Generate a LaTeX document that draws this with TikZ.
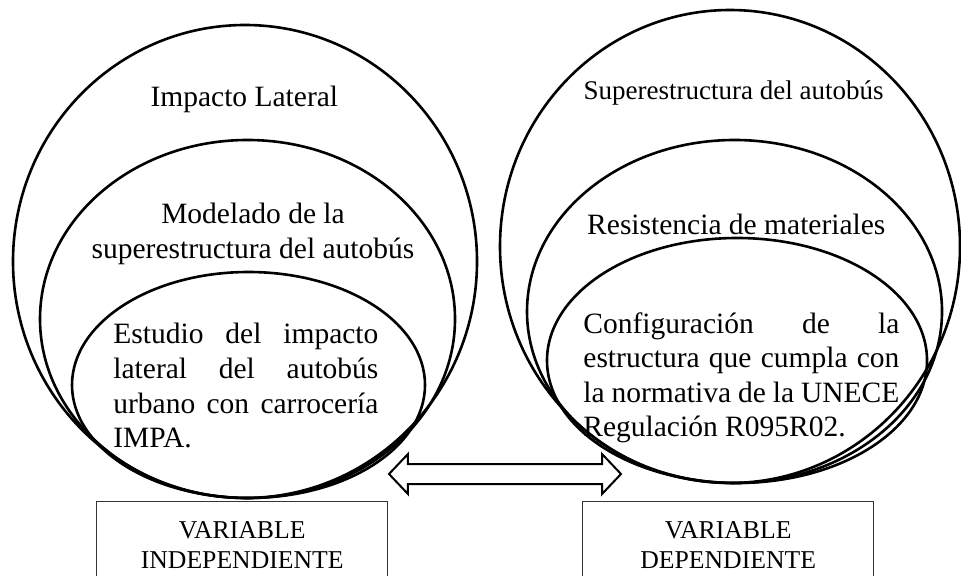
\documentclass[tikz,border=0pt]{standalone}
\usepackage{fontspec}
\setmainfont{Liberation Serif}
\usepackage{tikz}
\usetikzlibrary{positioning,shapes.geometric,shapes.arrows}

\begin{document}
\begin{tikzpicture}[x = 0.5pt, y = -0.5pt,
    ring/.style = { draw, shape = ellipse, line width = 1.3pt, inner sep = 0pt },
    lbl/.style = { align = center, inner sep = 0pt, font = \fontsize{14.75}{17.5}\selectfont },
    para/.style = { align = justify, inner sep = 0pt, anchor = north west, font = \fontsize{14.75}{17.3}\selectfont },
    varbox/.style = { draw = black!80, line width = 0.7pt, anchor = north west, align = center,
                      minimum width = 145.5pt, minimum height = 43.5pt, inner sep = 0pt,
                      font = \fontsize{12.85}{15}\selectfont }]
    \useasboundingbox (0,0) rectangle (961,576);

    \node [ring, minimum width = 232pt, minimum height = 236.5pt] (impacto) at (245,261.5) {};
    \node [ring, minimum width = 207.5pt, minimum height = 179pt] (modelado) at (247.5,319) {};
    \node [ring, minimum width = 176.5pt, minimum height = 113pt] (estudio) at (248.5,385) {};
    \node [ring, minimum width = 230pt, minimum height = 236.5pt] (superest) at (730,246.5) {};
    \node [ring, minimum width = 207.5pt, minimum height = 171.5pt] (resist) at (734.5,311.5) {};
    \node [ring, minimum width = 190pt, minimum height = 122.5pt] (config) at (737,360.5) {};

    \node [lbl, anchor = base] (impactoT) at (248,107) { Impacto Lateral };
    \node [lbl, anchor = north] (modeladoT) at (253,203) { Modelado de la\\ superestructura del autobús };
    \node [para, text width = 132.5pt] (estudioT) at (113,323)
      { Estudio del impacto\linebreak lateral del autobús\linebreak urbano con carrocería\linebreak IMPA. };

    \node [lbl, anchor = base, font = \fontsize{13.5}{16}\selectfont] (superestT) at (737,100) { Superestructura del autobús };
    \node [lbl, anchor = base] (resistT) at (740,235) { Resistencia de materiales };
    \node [para, text width = 158pt] (configT) at (583,312)
      { Configuración de la\linebreak estructura que cumpla con\linebreak la normativa de la UNECE\linebreak Regulación R095R02. };

    \node [double arrow, draw, fill = white, line width = 1pt, inner xsep = 0pt, inner ysep = 4.5pt,
           minimum height = 116pt, double arrow head extend = 5pt, double arrow tip angle = 93] (enlace) at (505,474) {};

    \node [varbox] (indep) at (96,501) { VARIABLE\\ INDEPENDIENTE };
    \node [varbox] (dep) at (582,501) { VARIABLE\\ DEPENDIENTE };
\end{tikzpicture}
\end{document}
